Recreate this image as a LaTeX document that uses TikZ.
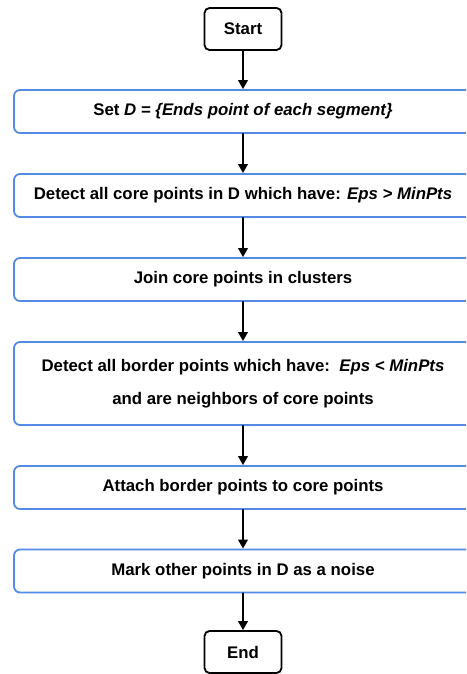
\documentclass[tikz,border=0pt]{standalone}
\usepackage{fontspec}
\setmainfont{Liberation Sans}
\usetikzlibrary{arrows.meta}
\definecolor{stepblue}{RGB}{84,138,232}

\begin{document}
\begin{tikzpicture}[x=1pt,y=-1pt,line cap=round,
    font=\fontsize{16.8}{20}\selectfont\bfseries,
    termbox/.style={draw=black,line width=1.8pt,rounded corners=5pt,
      minimum width=77pt,minimum height=42pt,inner sep=0pt},
    stepbox/.style={draw=stepblue,line width=1.8pt,rounded corners=6pt,
      minimum width=458pt,minimum height=43pt,inner sep=0pt,align=center},
    flow/.style={black,line width=2pt,-{Triangle[length=9pt,width=9.5pt]}}]
  \useasboundingbox (0,0) rectangle (466,674);
  \clip (0,0) rectangle (466,674);
  \fill[white] (0,0) rectangle (466,674);
  \node[termbox] (start) at (243,29) {Start};
  \node[stepbox] (setd) at (243,111.5) {Set \textit{D = \{Ends point of each segment\}}};
  \node[stepbox] (core) at (243,195.5) {Detect all core points in D which have: \textit{Eps > MinPts}};
  \node[stepbox] (join) at (243,279.5) {Join core points in clusters};
  \node[stepbox,minimum height=83pt,font=\fontsize{16.8}{33}\selectfont\bfseries] (border) at (243,383.5)
    {Detect all border points which have:\ \ \textit{Eps < MinPts}\\and are neighbors of core points};
  \node[stepbox] (attach) at (243,487.5) {Attach border points to core points};
  \node[stepbox] (noise) at (243,571) {Mark other points in D as a noise};
  \node[termbox] (end) at (243,652) {End};
  \foreach \a/\b in {start/setd,setd/core,core/join,join/border,border/attach,attach/noise,noise/end}
    \draw[flow] (\a) -- (\b);
\end{tikzpicture}
\end{document}
